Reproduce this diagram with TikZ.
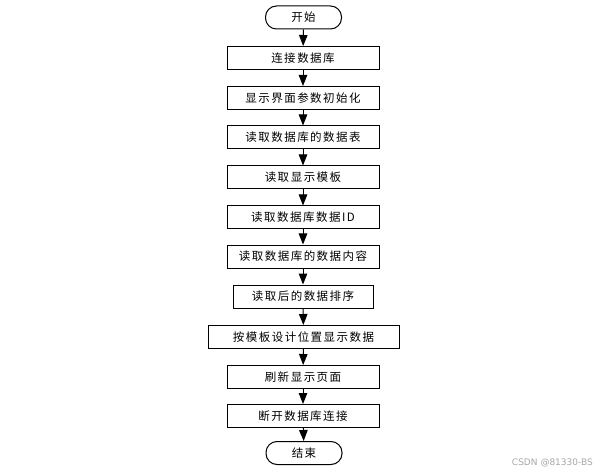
\documentclass[tikz,border=0pt]{standalone}
\usepackage{fontspec}
\newfontfamily\cjk{Noto Sans CJK SC}[LetterSpace=13]
\newfontfamily\wm{DejaVu Sans}
\usetikzlibrary{arrows.meta}
\begin{document}
\begin{tikzpicture}[x=1pt,y=-1pt,
  box/.style={draw,line width=1pt,minimum height=23pt,inner sep=0pt,font=\cjk\fontsize{11.5}{13}\selectfont},
  term/.style={box,rounded corners=11pt},
  arr/.style={line width=1pt,-{Triangle[width=8.5pt,length=11pt]}}]
\useasboundingbox (0,0) rectangle (605,473);
\node[term,minimum width=76pt] (s) at (303.5,17.5) {开始};
\node[box,minimum width=152pt] (b1) at (303,58) {连接数据库};
\node[box,minimum width=152pt] (b2) at (303,98) {显示界面参数初始化};
\node[box,minimum width=152pt] (b3) at (303,137.5) {读取数据库的数据表};
\node[box,minimum width=152pt] (b4) at (303,177.5) {读取显示模板};
\node[box,minimum width=152pt] (b5) at (303,217.5) {读取数据库数据ID};
\node[box,minimum width=152pt] (b6) at (303,256.5) {读取数据库的数据内容};
\node[box,minimum width=140pt] (b7) at (303,296.5) {读取后的数据排序};
\node[box,minimum width=191pt] (b8) at (303.5,337) {按模板设计位置显示数据};
\node[box,minimum width=152pt] (b9) at (303,377) {刷新显示页面};
\node[box,minimum width=152pt] (b10) at (303,416) {断开数据库连接};
\node[term,minimum width=76pt] (e) at (304,453) {结束};
\foreach \a/\b in {s/b1,b1/b2,b2/b3,b3/b4,b4/b5,b5/b6,b6/b7,b7/b8,b8/b9,b9/b10,b10/e}
  \draw[arr] (\a) -- (\b);
\node[text=black!35,font=\wm\fontsize{9}{10}\selectfont,anchor=east,inner sep=0pt] (wm) at (593,463) {CSDN @81330-BS};
\end{tikzpicture}
\end{document}
